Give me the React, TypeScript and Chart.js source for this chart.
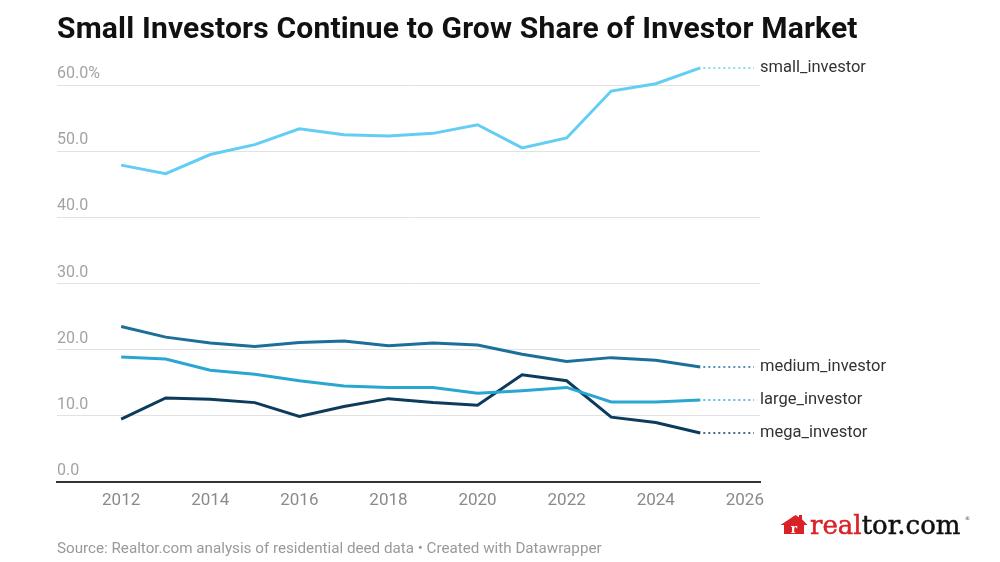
import React, { useEffect, useRef } from "react";
import { Chart, registerables } from "chart.js";

Chart.register(...registerables);

// Share of investor purchases by investor size, 2012–2025 (%)
const years = [2012, 2013, 2014, 2015, 2016, 2017, 2018, 2019, 2020, 2021, 2022, 2023, 2024, 2025];
const smallInvestor = [47.9, 46.6, 49.5, 51.0, 53.4, 52.5, 52.3, 52.7, 54.0, 50.5, 52.0, 59.1, 60.2, 62.6];
const mediumInvestor = [23.5, 21.9, 21.0, 20.5, 21.1, 21.3, 20.6, 21.0, 20.7, 19.3, 18.2, 18.8, 18.4, 17.4];
const largeInvestor = [18.9, 18.6, 16.9, 16.3, 15.3, 14.5, 14.3, 14.3, 13.4, 13.8, 14.3, 12.1, 12.1, 12.4];
const megaInvestor = [9.5, 12.7, 12.5, 12.0, 9.9, 11.4, 12.6, 12.0, 11.6, 16.2, 15.3, 9.8, 9.0, 7.4];

const seriesNames = ["small_investor", "medium_investor", "large_investor", "mega_investor"];
const seriesColors = ["#63cdf3", "#1c6f98", "#2aa6d2", "#0d3b5b"];

const yTickValues = [0, 10, 20, 30, 40, 50, 60];
const yTickLabels = ["0.0", "10.0", "20.0", "30.0", "40.0", "50.0", "60.0%"];
const xTickValues = [2012, 2014, 2016, 2018, 2020, 2022, 2024, 2026];

const FONT = "Roboto, 'Noto Sans', sans-serif";

const toPoints = (vals: number[]) => vals.map((v, i) => ({ x: years[i], y: v }));

// Draws y labels above gridlines, x labels, and the end-of-line series labels
const annotations = {
  id: "annotations",
  afterDraw(chart: any) {
    const { ctx, chartArea } = chart;
    const yScale = chart.scales.y;
    const xScale = chart.scales.x;
    ctx.save();

    // y axis labels, sitting on top of each gridline
    ctx.font = `16px ${FONT}`;
    ctx.fillStyle = "#a3a3a3";
    ctx.textAlign = "left";
    ctx.textBaseline = "alphabetic";
    yTickValues.forEach((v, i) => {
      const y = yScale.getPixelForValue(v);
      ctx.fillText(yTickLabels[i], chartArea.left, y - 7);
    });

    // x axis labels
    ctx.fillStyle = "#8a8a8a";
    ctx.font = `17px ${FONT}`;
    ctx.textAlign = "center";
    ctx.textBaseline = "middle";
    xTickValues.forEach((t) => {
      const x = xScale.getPixelForValue(t);
      ctx.fillText(String(t), x, chartArea.bottom + 19);
    });

    // series labels at the end of each line
    chart.data.datasets.forEach((ds: any, i: number) => {
      const meta = chart.getDatasetMeta(i);
      const last = meta.data[meta.data.length - 1];
      if (!last) return;
      const x0 = last.x + 3;
      const y0 = last.y;
      ctx.strokeStyle = ds.borderColor;
      ctx.lineWidth = 1.5;
      ctx.setLineDash([2, 3]);
      ctx.beginPath();
      ctx.moveTo(x0, y0);
      ctx.lineTo(chartArea.right - 6, y0);
      ctx.stroke();
      ctx.setLineDash([]);
      ctx.fillStyle = "#333333";
      ctx.font = `16.5px ${FONT}`;
      ctx.textAlign = "left";
      ctx.textBaseline = "middle";
      ctx.fillText(seriesNames[i], chartArea.right, y0);
    });

    ctx.restore();
  },
};

function LineChart() {
  const ref = useRef<HTMLCanvasElement>(null);

  useEffect(() => {
    if (!ref.current) return;
    const allSeries = [smallInvestor, mediumInvestor, largeInvestor, megaInvestor];
    const chart = new Chart(ref.current, {
      type: "line",
      data: {
        datasets: allSeries.map((vals, i) => ({
          label: seriesNames[i],
          data: toPoints(vals),
          borderColor: seriesColors[i],
          backgroundColor: seriesColors[i],
          borderWidth: 3,
          pointRadius: 0,
          tension: 0,
          fill: false,
        })),
      },
      options: {
        animation: false,
        responsive: false,
        events: [],
        layout: { padding: { left: 57, right: 240, top: 52, bottom: 0 } },
        plugins: {
          legend: { display: false },
          tooltip: { enabled: false },
          title: { display: false },
        },
        scales: {
          x: {
            type: "linear",
            min: 2010.56,
            max: 2026.34,
            grid: { display: false, drawTicks: false },
            border: { display: true, color: "#333333", width: 2 },
            ticks: { display: false },
            afterFit: (s: any) => {
              s.height = 80;
            },
          },
          y: {
            type: "linear",
            min: 0,
            max: 65,
            afterBuildTicks: (s: any) => {
              s.ticks = yTickValues.map((v) => ({ value: v }));
            },
            grid: { color: "#e2e2e2", lineWidth: 1, drawTicks: false },
            border: { display: false },
            ticks: { display: false },
            afterFit: (s: any) => {
              s.width = 0;
            },
          },
        },
      },
      plugins: [annotations],
    });
    return () => chart.destroy();
  }, []);

  return <canvas ref={ref} width={1000} height={562} style={{ position: "absolute", left: 0, top: 0 }} />;
}

export default function App() {
  return (
    <div
      style={{
        position: "absolute",
        left: 0,
        top: 0,
        width: 1000,
        height: 562,
        background: "#ffffff",
        overflow: "hidden",
        fontFamily: FONT,
      }}
    >
      <LineChart />
      <div
        style={{
          position: "absolute",
          left: 57,
          top: 10,
          fontSize: 30,
          fontWeight: 700,
          color: "#111111",
          whiteSpace: "nowrap",
          letterSpacing: 0.18,
        }}
      >
        Small Investors Continue to Grow Share of Investor Market
      </div>
      <div
        style={{
          position: "absolute",
          left: 57,
          top: 539,
          fontSize: 15.2,
          color: "#999999",
          whiteSpace: "nowrap",
        }}
      >
        Source: Realtor.com analysis of residential deed data • Created with Datawrapper
      </div>
      <svg width="200" height="40" viewBox="0 0 200 40" style={{ position: "absolute", left: 775, top: 505 }}>
        <path d="M9 29 L9 20 L5.5 20 L20.5 10 L24 12.3 L24 10 L27 10 L27 14.3 L32.5 20 L29 20 L29 29 Z" fill="#d92228" />
        <text x="19" y="28" textAnchor="middle" fontFamily="'DejaVu Serif', serif" fontWeight="700" fontSize="12" fill="#ffffff">
          r
        </text>
        <text x="35" y="29" fontFamily="'DejaVu Serif', 'Liberation Serif', serif" fontSize="26" strokeWidth="0.5">
          <tspan fill="#d92228" stroke="#d92228">real</tspan>
          <tspan fill="#111111" stroke="#111111">tor.com</tspan>
        </text>
        <text x="190" y="15" fontFamily="'DejaVu Sans', sans-serif" fontSize="5" fill="#333333">
          ®
        </text>
      </svg>
    </div>
  );
}
